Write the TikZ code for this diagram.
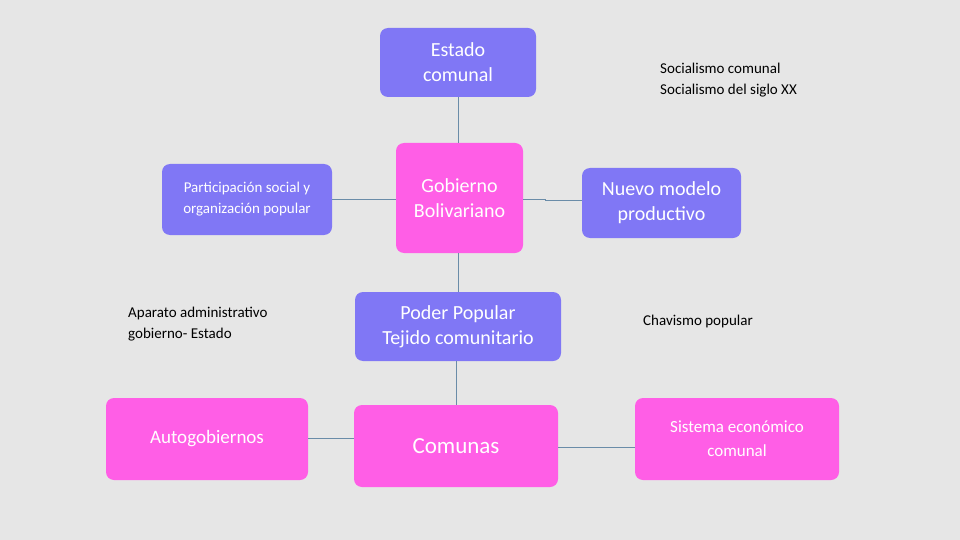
\documentclass[tikz,border=0pt]{standalone}
\usepackage{fontspec}
\setmainfont{Carlito}
\definecolor{bg}{HTML}{E6E6E6}
\definecolor{pur}{HTML}{8077F5}
\definecolor{pnk}{HTML}{FF5EE6}
\definecolor{ln}{HTML}{6A8CA8}
\begin{document}
\begin{tikzpicture}[x=1pt,y=-1pt,
  box/.style={rounded corners=8pt,inner sep=0pt,text=white,align=center,font=\fontsize{20}{25}\selectfont},
  pbox/.style={box,fill=pur},
  kbox/.style={box,fill=pnk},
  plain/.style={inner sep=0pt,align=left,text=black,font=\fontsize{15}{21}\selectfont},
  conn/.style={draw=ln,line width=0.9pt}]
\fill[bg] (0,0) rectangle (960,540);
\useasboundingbox (0,0) rectangle (960,540);
\node[pbox,minimum width=156pt,minimum height=69pt] (estado) at (458,62.5) {Estado\\comunal};
\node[kbox,minimum width=127pt,minimum height=110pt] (gob) at (459.5,198) {Gobierno\\Bolivariano};
\node[pbox,minimum width=170pt,minimum height=71pt,font=\fontsize{15}{21}\selectfont] (part) at (247,199.5) {Participación social y\\organización popular};
\node[pbox,minimum width=159pt,minimum height=70pt] (nuevo) at (661.5,203) {Nuevo modelo\\productivo};
\node[pbox,minimum width=206pt,minimum height=69pt] (poder) at (458,326.5) {Poder Popular\\Tejido comunitario};
\node[kbox,minimum width=204pt,minimum height=82pt,font=\fontsize{23}{28}\selectfont] (comunas) at (456,446) {Comunas};
\node[kbox,minimum width=202pt,minimum height=82pt,font=\fontsize{19}{24}\selectfont] (auto) at (207,439) {Autogobiernos};
\node[kbox,minimum width=204pt,minimum height=82pt,font=\fontsize{17}{24}\selectfont] (sist) at (737,439) {Sistema económico\\comunal};
\node[plain,anchor=west] (soc) at (660,80.5) {Socialismo comunal\\Socialismo del siglo XX};
\node[plain,anchor=west] (apar) at (128,324.5) {Aparato administrativo\\gobierno- Estado};
\node[plain,anchor=west] (chav) at (643,321) {Chavismo popular};
\draw[conn] (estado.south) -- (estado.south |- gob.north);
\draw[conn] (part.east) -- (part.east -| gob.west);
\draw[conn] (gob.east |- 0,199) -- (545,199) -- (545,200) -- (nuevo.west |- 0,200);
\draw[conn] (gob.south -| 458,0) -- (poder.north);
\draw[conn] (poder.south -| 456,0) -- (comunas.north);
\draw[conn] (auto.east |- 0,438) -- (comunas.west |- 0,438);
\draw[conn] (comunas.east |- 0,447) -- (sist.west |- 0,447);
\end{tikzpicture}
\end{document}
